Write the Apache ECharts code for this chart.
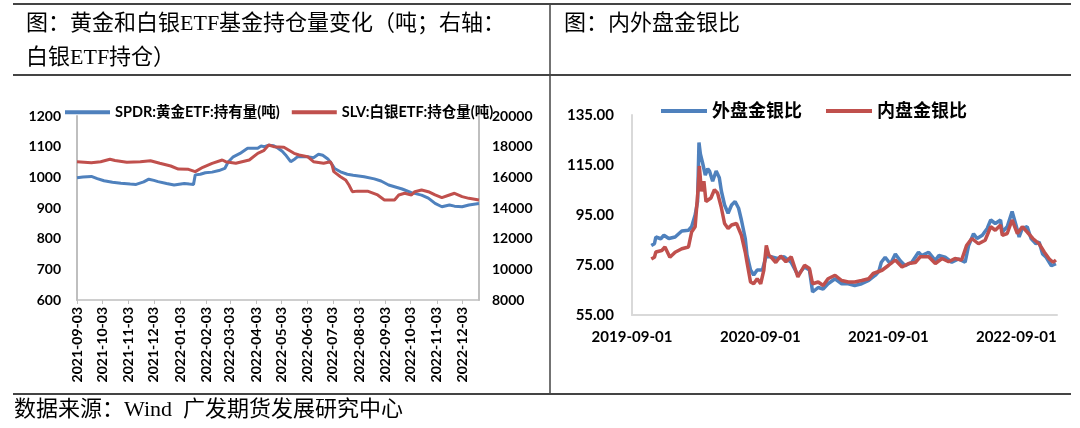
<!DOCTYPE html>
<html>
<head>
<meta charset="utf-8">
<script src="https://cdn.jsdelivr.net/npm/echarts@6/dist/echarts.min.js"></script>
<style>
html,body{margin:0;padding:0;background:#fff;}
#c{width:1080px;height:428px;}
</style>
</head>
<body>
<div id="c"></div>
<script>
// ---------- Left chart: ETF holdings ----------
const leftStart = '2021-09-03', leftEnd = '2022-12-23';
const leftTickLabels = ['2021-09-03','2021-10-03','2021-11-03','2021-12-03','2022-01-03','2022-02-03','2022-03-03','2022-04-03','2022-05-03','2022-06-03','2022-07-03','2022-08-03','2022-09-03','2022-10-03','2022-11-03','2022-12-03'];
const goldName = 'SPDR:黄金ETF:持有量(吨)';
const silverName = 'SLV:白银ETF:持仓量(吨)';
const goldDates = ['2021-09-03','2021-09-10','2021-09-20','2021-09-27','2021-10-05','2021-10-15','2021-10-25','2021-11-05','2021-11-12','2021-11-21','2021-11-27','2021-12-03','2021-12-08','2021-12-18','2021-12-27','2022-01-08','2022-01-14','2022-01-19','2022-01-21','2022-01-27','2022-02-02','2022-02-10','2022-02-18','2022-02-25','2022-03-01','2022-03-07','2022-03-15','2022-03-24','2022-04-05','2022-04-09','2022-04-13','2022-04-18','2022-04-24','2022-04-29','2022-05-04','2022-05-08','2022-05-14','2022-05-19','2022-05-22','2022-05-26','2022-06-03','2022-06-10','2022-06-16','2022-06-21','2022-06-27','2022-07-01','2022-07-05','2022-07-12','2022-07-20','2022-07-27','2022-08-09','2022-08-21','2022-08-29','2022-09-07','2022-09-23','2022-10-04','2022-10-16','2022-10-24','2022-11-01','2022-11-09','2022-11-18','2022-11-24','2022-12-03','2022-12-11','2022-12-23'];
const goldValues = [999,1001,1003,996,989,984,981,978,977,985,994,990,986,980,975,980,978,977,1008,1010,1015,1017,1022,1029,1050,1067,1078,1095,1095,1102,1100,1105,1103,1095,1085,1073,1051,1060,1067,1067,1067,1064,1075,1072,1060,1046,1029,1018,1010,1007,1002,995,988,975,962,950,942,932,915,904,910,906,904,910,915];
const silverDates = ['2021-09-03','2021-09-20','2021-10-01','2021-10-12','2021-10-18','2021-11-01','2021-11-17','2021-11-29','2021-12-10','2021-12-23','2022-01-01','2022-01-13','2022-01-21','2022-01-30','2022-02-10','2022-02-22','2022-02-26','2022-03-10','2022-03-26','2022-04-05','2022-04-12','2022-04-18','2022-04-24','2022-05-06','2022-05-18','2022-05-24','2022-06-03','2022-06-10','2022-06-22','2022-06-30','2022-07-02','2022-07-04','2022-07-12','2022-07-18','2022-07-22','2022-07-26','2022-08-01','2022-08-13','2022-08-25','2022-09-02','2022-09-14','2022-09-19','2022-09-26','2022-10-04','2022-10-08','2022-10-16','2022-10-24','2022-11-01','2022-11-09','2022-11-18','2022-11-24','2022-12-03','2022-12-11','2022-12-23'];
const silverValues = [17020,16955,17020,17176,17100,16980,17020,17085,16915,16740,16540,16520,16370,16655,16915,17130,17020,16915,17130,17565,17740,18110,17998,17960,17565,17455,17345,17020,16915,17020,16805,16370,16040,15830,15500,15065,15100,15100,14850,14520,14520,14850,14960,14850,15065,15175,15065,14850,14675,14850,14960,14740,14630,14520];

// ---------- Right chart: gold/silver ratio ----------
const rightStart = '2019-09-01', rightEnd = '2022-12-26';
const rightTickLabels = ['2019-09-01','2020-09-01','2021-09-01','2022-09-01'];
const outerName = '外盘金银比';
const innerName = '内盘金银比';
const outerDates = ['2019-10-26','2019-11-04','2019-11-08','2019-11-22','2019-12-01','2019-12-15','2020-01-02','2020-01-21','2020-02-09','2020-02-18','2020-02-28','2020-03-06','2020-03-10','2020-03-14','2020-03-20','2020-03-28','2020-04-04','2020-04-09','2020-04-18','2020-04-28','2020-05-07','2020-05-13','2020-05-22','2020-06-01','2020-06-11','2020-06-21','2020-07-01','2020-07-09','2020-07-20','2020-07-25','2020-08-04','2020-08-13','2020-08-23','2020-09-07','2020-09-17','2020-10-01','2020-10-20','2020-11-08','2020-11-28','2020-12-17','2021-01-05','2021-01-19','2021-01-28','2021-02-13','2021-02-27','2021-03-13','2021-04-02','2021-04-21','2021-05-10','2021-05-28','2021-06-17','2021-07-07','2021-07-26','2021-08-05','2021-08-12','2021-08-23','2021-09-07','2021-09-21','2021-10-05','2021-10-19','2021-11-07','2021-11-26','2021-12-05','2021-12-25','2022-01-13','2022-01-23','2022-02-10','2022-03-01','2022-03-20','2022-04-08','2022-04-18','2022-05-02','2022-05-12','2022-05-27','2022-06-10','2022-06-20','2022-07-03','2022-07-18','2022-07-23','2022-08-06','2022-08-20','2022-08-31','2022-09-09','2022-09-18','2022-10-02','2022-10-13','2022-10-27','2022-11-05','2022-11-15','2022-11-25','2022-12-10','2022-12-23'];
const outerValues = [82.8,83.5,86.2,85.5,86.9,85.6,86.2,88.6,88.9,90.3,95.0,100.4,124.0,119.4,116.0,111.0,113.5,112.6,108.5,112.6,109.9,104.5,99.0,95.7,99.0,100.4,97.7,93.0,85.6,79.0,73.0,71.0,73.0,73.0,78.3,78.3,77.6,78.3,76.0,71.0,74.2,73.0,64.2,66.0,65.4,67.5,69.5,67.5,67.5,66.8,67.5,68.8,70.9,72.5,76.1,78.1,75.4,79.4,76.7,74.7,76.1,80.1,78.8,80.1,76.8,78.8,78.1,76.1,77.4,76.1,82.8,87.5,85.6,86.9,89.6,93.0,91.6,93.0,88.2,90.3,96.4,91.0,86.2,89.6,90.3,85.6,83.5,84.2,79.4,78.1,74.7,75.5];
const innerDates = ['2019-10-26','2019-11-04','2019-11-08','2019-11-25','2019-12-04','2019-12-18','2020-01-02','2020-01-21','2020-02-09','2020-02-18','2020-02-28','2020-03-07','2020-03-11','2020-03-17','2020-03-24','2020-03-30','2020-04-13','2020-04-23','2020-05-02','2020-05-12','2020-05-22','2020-06-01','2020-06-11','2020-06-25','2020-07-09','2020-07-20','2020-07-25','2020-08-04','2020-08-13','2020-08-23','2020-09-02','2020-09-11','2020-09-18','2020-09-25','2020-10-01','2020-10-15','2020-10-29','2020-11-13','2020-11-28','2020-12-17','2021-01-05','2021-01-19','2021-01-28','2021-02-13','2021-02-27','2021-03-13','2021-04-02','2021-04-21','2021-05-10','2021-05-28','2021-06-17','2021-07-07','2021-07-20','2021-08-14','2021-09-02','2021-09-21','2021-10-10','2021-10-29','2021-11-17','2021-12-01','2021-12-25','2022-01-13','2022-02-01','2022-02-20','2022-03-10','2022-03-29','2022-04-12','2022-04-27','2022-05-16','2022-06-04','2022-06-20','2022-07-03','2022-07-18','2022-07-23','2022-08-06','2022-08-20','2022-09-04','2022-09-18','2022-10-02','2022-10-18','2022-11-05','2022-11-20','2022-12-04','2022-12-15','2022-12-23'];
const innerValues = [77.4,78.1,80.2,80.8,82.2,78.1,80.1,81.5,82.2,88.2,90.3,104.5,114.6,104.5,108.5,100.4,101.8,105.1,103.8,98.4,91.6,89.6,91.0,91.6,86.9,80.1,76.0,68.2,67.5,69.5,67.5,73.0,82.8,79.0,78.3,76.0,78.6,76.3,78.3,70.2,74.9,73.6,67.5,68.2,66.8,69.5,70.9,68.8,68.2,68.2,68.8,69.5,71.6,72.9,74.9,77.0,74.2,75.6,76.0,78.3,78.3,75.6,77.6,76.3,77.6,77.0,82.8,85.6,83.5,84.9,90.3,88.9,91.0,86.9,87.6,93.0,87.6,90.3,88.2,85.6,83.5,80.1,77.4,76.1,77.0];

// ---------- helpers ----------
function utc(s){ const p = s.split('-').map(Number); return Date.UTC(p[0], p[1]-1, p[2]); }
function dayList(a, b){ const out = []; for (let t = utc(a); t <= utc(b); t += 864e5) out.push(new Date(t).toISOString().slice(0, 10)); return out; }
function zip(start, dates, vals){ const s = utc(start); return dates.map((d, i) => [Math.round((utc(d) - s) / 864e5), vals[i]]); }

const leftDays = dayList(leftStart, leftEnd);
const rightDays = dayList(rightStart, rightEnd);
const leftTickSet = new Set(leftTickLabels);
const rightTickSet = new Set(rightTickLabels);

const LAT = "Lato, 'Noto Sans CJK SC', sans-serif";
const DOC = "'Liberation Serif', 'Noto Sans CJK SC', serif";
const BLUE = '#4F81BD', RED = '#C0504D';
const AXC = '#bfbfbf';

const chart = echarts.init(document.getElementById('c'), null, {renderer: 'canvas'});
const titleStyle = {fontFamily: DOC, fontSize: 22, fontWeight: 'normal', color: '#000'};
const plain = v => String(v);

chart.setOption({
  animation: false,
  backgroundColor: '#fff',
  title: [
    {text: '图：黄金和白银ETF基金持仓量变化（吨；右轴：', left: 26, top: 13, padding: 0, textStyle: titleStyle},
    {text: '白银ETF持仓）', left: 26, top: 47, padding: 0, textStyle: titleStyle},
    {text: '图：内外盘金银比', left: 564, top: 13, padding: 0, textStyle: titleStyle},
    {text: '数据来源：Wind  广发期货发展研究中心', left: 14, top: 399, padding: 0, textStyle: titleStyle}
  ],
  graphic: [
    {type: 'line', shape: {x1: 13, y1: 4, x2: 1071, y2: 4}, style: {stroke: '#444', lineWidth: 2}},
    {type: 'line', shape: {x1: 13, y1: 75, x2: 1071, y2: 75}, style: {stroke: '#444', lineWidth: 2}},
    {type: 'line', shape: {x1: 13, y1: 394, x2: 1071, y2: 394}, style: {stroke: '#444', lineWidth: 2}},
    {type: 'line', shape: {x1: 550, y1: 4, x2: 550, y2: 394}, style: {stroke: '#444', lineWidth: 1.5}}
  ],
  legend: [
    {
      data: [goldName, silverName], left: 65, top: 105, padding: 0,
      icon: 'rect', itemWidth: 45, itemHeight: 4, itemGap: 12,
      textStyle: {fontFamily: LAT, fontSize: 14.5, fontWeight: 'bold', color: '#000'}
    },
    {
      data: [outerName, innerName], left: 661, top: 102, padding: 0,
      icon: 'rect', itemWidth: 46, itemHeight: 4, itemGap: 24,
      textStyle: {fontFamily: LAT, fontSize: 18, fontWeight: 'bold', color: '#000'}
    }
  ],
  grid: [
    {left: 77, right: 1080 - 479, top: 116, bottom: 428 - 300, containLabel: false},
    {left: 632, right: 1080 - 1057, top: 115, bottom: 428 - 315, containLabel: false}
  ],
  xAxis: [
    {
      type: 'category', gridIndex: 0, data: leftDays, boundaryGap: false,
      axisLine: {show: true, lineStyle: {color: AXC, width: 1.5}},
      axisTick: {show: true, length: 4, lineStyle: {color: AXC}, interval: (i, v) => leftTickSet.has(v)},
      axisLabel: {interval: (i, v) => leftTickSet.has(v), rotate: 90, margin: 7,
        fontFamily: LAT, fontSize: 14, fontWeight: 'bold', color: '#000'},
      splitLine: {show: false}
    },
    {
      type: 'category', gridIndex: 1, data: rightDays, boundaryGap: false,
      axisLine: {show: true, lineStyle: {color: '#d9d9d9', width: 2}},
      axisTick: {show: false},
      axisLabel: {interval: (i, v) => rightTickSet.has(v), margin: 15,
        fontFamily: LAT, fontSize: 15, fontWeight: 'bold', color: '#000'},
      splitLine: {show: false}
    }
  ],
  yAxis: [
    {
      type: 'value', gridIndex: 0, min: 600, max: 1200, interval: 100,
      axisLine: {show: true, lineStyle: {color: AXC, width: 2}}, axisTick: {show: false},
      axisLabel: {margin: 16, formatter: plain, fontFamily: LAT, fontSize: 14, fontWeight: 'bold', color: '#000'},
      splitLine: {show: false}
    },
    {
      type: 'value', gridIndex: 0, position: 'right', min: 8000, max: 20000, interval: 2000,
      axisLine: {show: true, lineStyle: {color: AXC, width: 2}}, axisTick: {show: false},
      axisLabel: {margin: 13, formatter: plain, fontFamily: LAT, fontSize: 14, fontWeight: 'bold', color: '#000'},
      splitLine: {show: false}
    },
    {
      type: 'value', gridIndex: 1, min: 55, max: 135, interval: 20,
      axisLine: {show: true, lineStyle: {color: '#d9d9d9', width: 2}}, axisTick: {show: false},
      axisLabel: {margin: 18, formatter: v => v.toFixed(2), fontFamily: LAT, fontSize: 15, fontWeight: 'bold', color: '#000'},
      splitLine: {show: false}
    }
  ],
  series: [
    {name: goldName, type: 'line', xAxisIndex: 0, yAxisIndex: 0, data: zip(leftStart, goldDates, goldValues),
      symbol: 'none', lineStyle: {color: BLUE, width: 3}, itemStyle: {color: BLUE}},
    {name: silverName, type: 'line', xAxisIndex: 0, yAxisIndex: 1, data: zip(leftStart, silverDates, silverValues),
      symbol: 'none', lineStyle: {color: RED, width: 3}, itemStyle: {color: RED}},
    {name: outerName, type: 'line', xAxisIndex: 1, yAxisIndex: 2, data: zip(rightStart, outerDates, outerValues),
      symbol: 'none', lineStyle: {color: BLUE, width: 3.5}, itemStyle: {color: BLUE}},
    {name: innerName, type: 'line', xAxisIndex: 1, yAxisIndex: 2, data: zip(rightStart, innerDates, innerValues),
      symbol: 'none', lineStyle: {color: RED, width: 3.5}, itemStyle: {color: RED}}
  ]
});
</script>
</body>
</html>
